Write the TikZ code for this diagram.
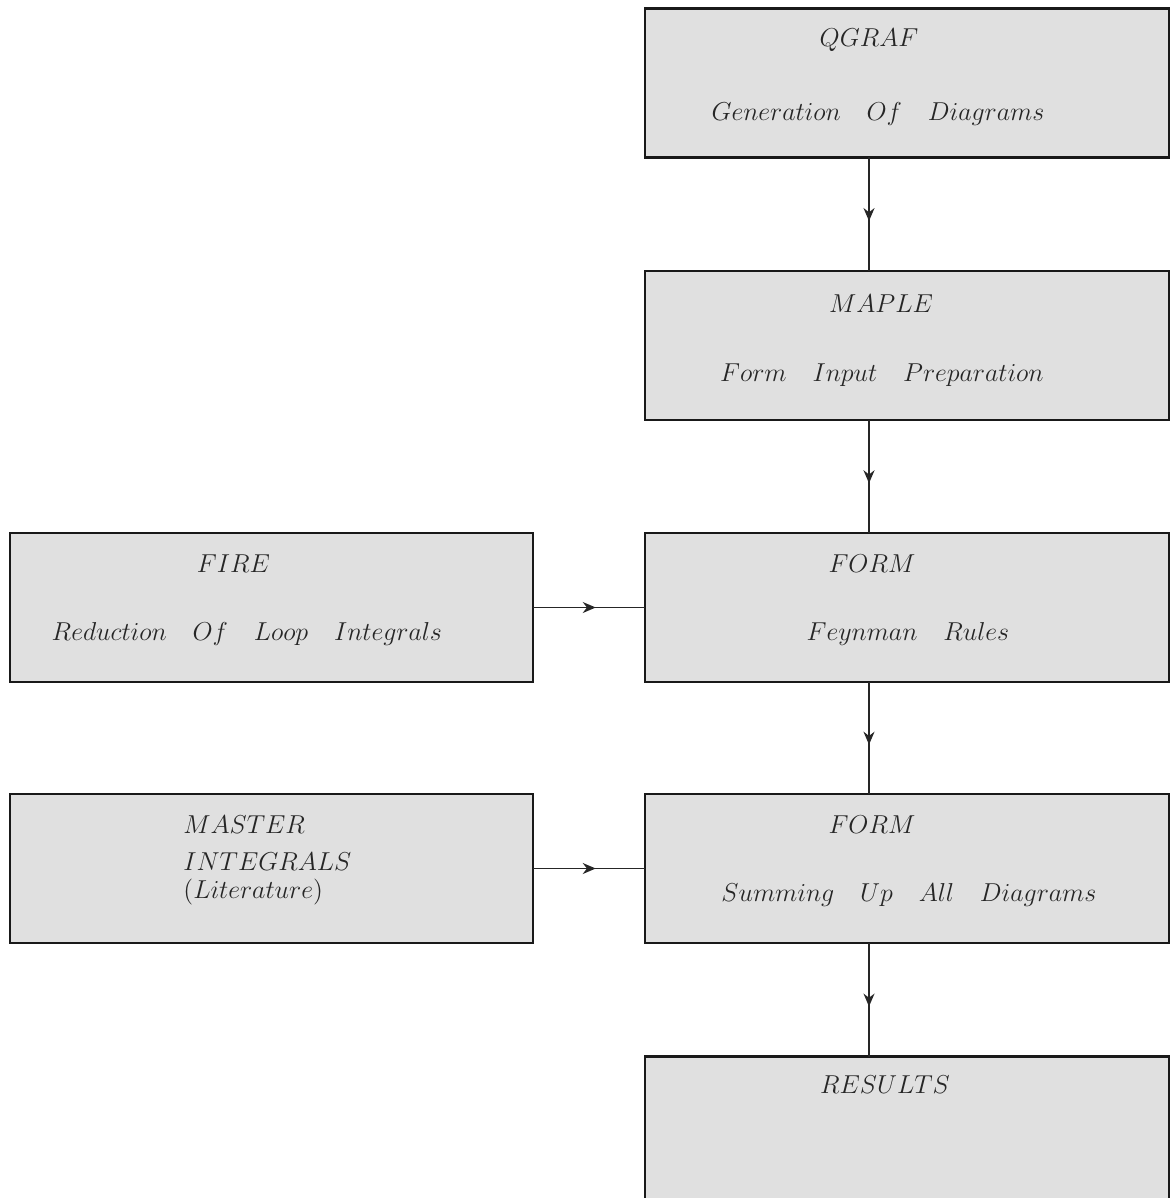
\documentclass[tikz,border=0pt]{standalone}
\usepackage{graphicx}
\usetikzlibrary{decorations.markings,arrows.meta}
\definecolor{boxfill}{HTML}{E0E0E0}
\newcommand{\lbltext}[1]{\scalebox{1.08}{$#1$}}
\tikzset{
  px/.style={x=0.5pt,y=-0.5pt},
  box/.style={draw=black!90,line width=1.1pt,fill=boxfill,rectangle,inner sep=0pt,outer sep=0pt,
    minimum width=262pt,minimum height=74.5pt},
  conn/.style={line width=0.8pt,draw=black!85,postaction={decorate},
    decoration={markings,mark=at position 0.56 with {\arrow{Stealth[length=6.5pt,width=5.5pt]}}}},
  txt/.style={anchor=base,inner sep=0pt,font=\fontsize{12}{14}\selectfont,text=black!85},
}
\begin{document}
\begin{tikzpicture}[px]
\useasboundingbox (0,0) rectangle (1172,1198);
\coordinate (cx) at (869,0);
% right column boxes
\node[box] (b1) at (907,83) {};
\node[box] (b2) at (907,345.5) {};
\node[box] (b3) at (907,607.5) {};
\node[box] (b4) at (907,868.5) {};
\node[box] (b5) at (907,1131) {};
% left column boxes
\node[box,minimum width=261.5pt] (l1) at (271.5,607.5) {};
\node[box,minimum width=261.5pt] (l2) at (271.5,868.5) {};
% texts
\node[txt] (t1a) at (869,47) {\lbltext{QGRAF}};
\node[txt] (t1b) at (878,121) {\lbltext{Generation\quad Of\quad Diagrams}};
\node[txt] (t2a) at (881,312) {\lbltext{MAPLE}};
\node[txt] (t2b) at (882,381) {\lbltext{Form\quad Input\quad Preparation}};
\node[txt] (t3a) at (872,572) {\lbltext{FORM}};
\node[txt] (t3b) at (908,640) {\lbltext{Feynman\quad Rules}};
\node[txt] (t4a) at (872,833) {\lbltext{FORM}};
\node[txt] (t4b) at (909,901) {\lbltext{Summing\quad Up\quad All\quad Diagrams}};
\node[txt] (t5a) at (885,1093) {\lbltext{RESULTS}};
\node[txt] (l1a) at (233.5,572) {\lbltext{FIRE}};
\node[txt] (l1b) at (247,640) {\lbltext{Reduction\quad Of\quad Loop\quad Integrals}};
\node[txt,anchor=base west] (l2a) at (183,833) {\lbltext{MASTER}};
\node[txt,anchor=base west] (l2b) at (183,870) {\lbltext{INTEGRALS}};
\node[txt,anchor=base west] (l2c) at (183,898) {\lbltext{(Literature)}};
% connectors
\draw[conn] (b1.south -| cx) -- (b2.north -| cx);
\draw[conn] (b2.south -| cx) -- (b3.north -| cx);
\draw[conn] (b3.south -| cx) -- (b4.north -| cx);
\draw[conn] (b4.south -| cx) -- (b5.north -| cx);
\draw[conn] (l1.east) -- (b3.west);
\draw[conn] (l2.east) -- (b4.west);
\end{tikzpicture}
\end{document}
